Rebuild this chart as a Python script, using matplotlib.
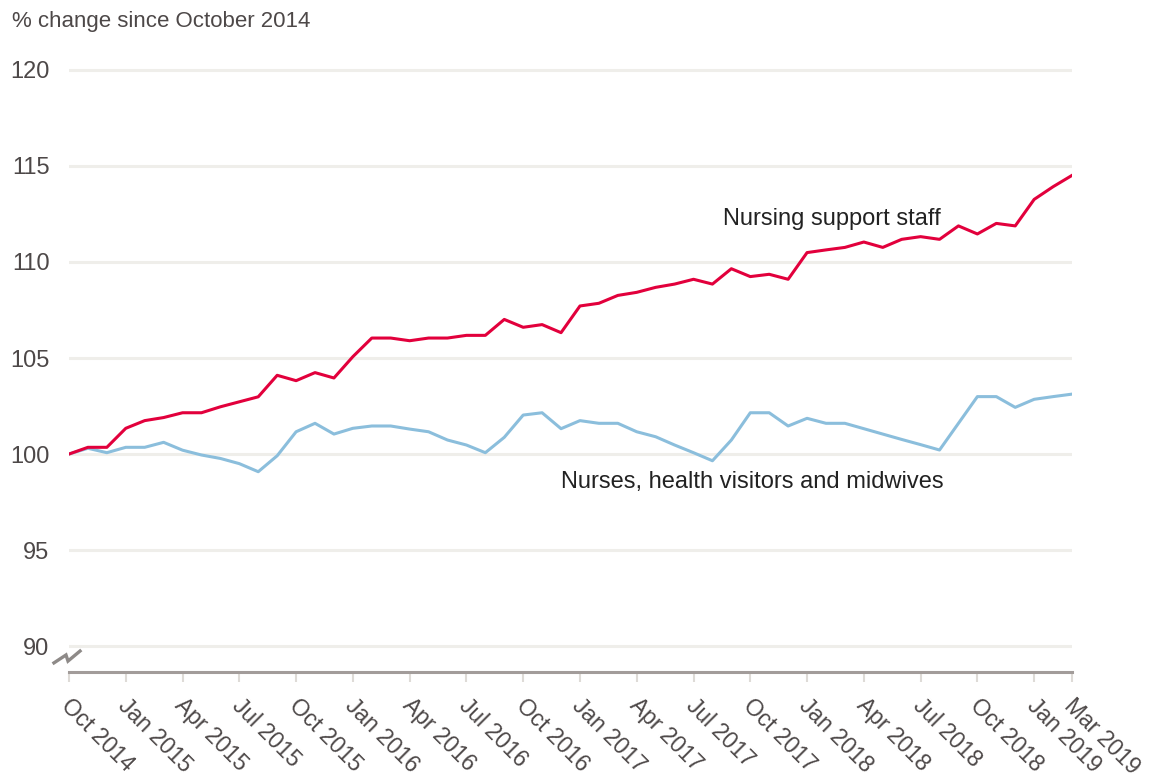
import matplotlib
matplotlib.use("Agg")
import matplotlib.pyplot as plt
import matplotlib.transforms as mtransforms

# monthly series, Oct 2014 = 100
months = list(range(54))
support_staff = [100.0, 100.35, 100.35, 101.34, 101.74, 101.9, 102.15, 102.15, 102.46, 102.72,
                 102.98, 104.1, 103.82, 104.24, 103.96, 105.07, 106.04, 106.04, 105.9, 106.04,
                 106.04, 106.18, 106.18, 107.01, 106.6, 106.74, 106.32, 107.71, 107.85, 108.26,
                 108.42, 108.68, 108.85, 109.1, 108.85, 109.65, 109.24, 109.36, 109.1, 110.49,
                 110.63, 110.76, 111.04, 110.76, 111.18, 111.32, 111.18, 111.88, 111.46, 112.01,
                 111.88, 113.26, 113.92, 114.51]
nurses = [100.0, 100.3, 100.07, 100.35, 100.35, 100.61, 100.2, 99.95, 99.77, 99.5,
          99.08, 99.91, 101.16, 101.6, 101.04, 101.34, 101.46, 101.46, 101.3, 101.16,
          100.73, 100.47, 100.07, 100.87, 102.03, 102.15, 101.32, 101.74, 101.6, 101.6,
          101.16, 100.9, 100.47, 100.07, 99.65, 100.73, 102.15, 102.15, 101.46, 101.86,
          101.6, 101.6, 101.32, 101.04, 100.76, 100.49, 100.21, 101.6, 102.99, 102.99,
          102.43, 102.85, 102.99, 103.12]

tick_pos = [0, 3, 6, 9, 12, 15, 18, 21, 24, 27, 30, 33, 36, 39, 42, 45, 48, 51, 53]
tick_labels = ["Oct 2014", "Jan 2015", "Apr 2015", "Jul 2015", "Oct 2015", "Jan 2016",
               "Apr 2016", "Jul 2016", "Oct 2016", "Jan 2017", "Apr 2017", "Jul 2017",
               "Oct 2017", "Jan 2018", "Apr 2018", "Jul 2018", "Oct 2018", "Jan 2019",
               "Mar 2019"]
y_ticks = [90, 95, 100, 105, 110, 115, 120]

red = "#e2003c"
blue = "#8bbedc"
txt = "#4d4848"

plt.rcParams["font.family"] = ["Liberation Sans", "DejaVu Sans"]

fig = plt.figure(figsize=(11.49, 7.78), dpi=100)
ax = fig.add_axes([69 / 1149, 1 - 672 / 778, 1003 / 1149, 607.8 / 778])

for y in y_ticks:
    ax.axhline(y, color="#efeeea", lw=2.2, zorder=0)

ax.plot(months, nurses, color=blue, lw=2.2, zorder=3)
ax.plot(months, support_staff, color=red, lw=2.2, zorder=4)

ax.set_xlim(0, 53)
ax.set_ylim(88.65, 120.3)

for s in ["top", "right", "left"]:
    ax.spines[s].set_visible(False)
ax.spines["bottom"].set_color("#a29c9a")
ax.spines["bottom"].set_linewidth(2.2)

ax.set_yticks(y_ticks)
ax.set_yticklabels([str(v) for v in y_ticks])
ax.tick_params(axis="y", length=0, pad=14, labelsize=17, labelcolor=txt)

ax.set_xticks(tick_pos)
ax.set_xticklabels(tick_labels, rotation=-45, ha="left", va="top", rotation_mode="anchor")
ax.tick_params(axis="x", length=7, width=1.5, color="#dedbd7", pad=9,
               labelsize=16.5, labelcolor=txt)
shift = mtransforms.ScaledTranslation(3 / 72, 0, fig.dpi_scale_trans)
for lab in ax.get_xticklabels():
    lab.set_transform(lab.get_transform() + shift)

# axis break marker
ax.plot([-0.015, -0.003, -0.001, 0.011], [0.015, 0.028, 0.018, 0.0345],
        transform=ax.transAxes, color="#8e8a88", lw=2.4, clip_on=False,
        solid_joinstyle="miter")

fig.text(12 / 1149, 1 - 22 / 778, "% change since October 2014", fontsize=16,
         color=txt, ha="left", va="center")

ax.text(40.3, 112.24, "Nursing support staff", fontsize=17, color="#222222",
        ha="center", va="center")
ax.text(36.1, 98.54, "Nurses, health visitors and midwives", fontsize=17,
        color="#222222", ha="center", va="center")

fig.savefig("out.png", dpi=100)
